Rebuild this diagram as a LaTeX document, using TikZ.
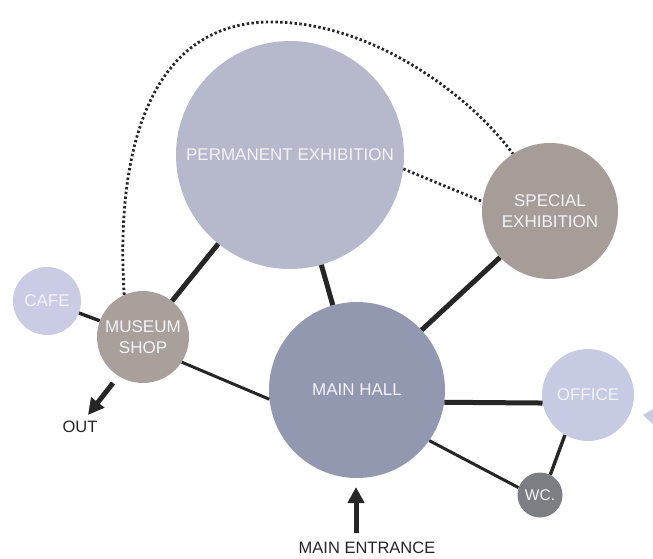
\documentclass[tikz,border=0pt]{standalone}
\usepackage{fontspec}
\setmainfont{Liberation Sans}
\usetikzlibrary{arrows.meta}
\definecolor{permc}{HTML}{B5B9CB}
\definecolor{hallc}{HTML}{9398B1}
\definecolor{specc}{HTML}{A69D98}
\definecolor{shopc}{HTML}{A9A09C}
\definecolor{cafec}{HTML}{C9CCE4}
\definecolor{offc}{HTML}{C6CAE2}
\definecolor{wcc}{HTML}{7D7D84}
\definecolor{linec}{HTML}{262626}
\definecolor{labc}{HTML}{F3F3F6}
\tikzset{
  room/.style={circle, inner sep=0pt, text=labc, align=center,
    font=\fontsize{17}{20.5}\selectfont},
  thickl/.style={draw=linec, line width=5pt},
  thinl/.style={draw=linec, line width=3pt},
  dotl/.style={draw=linec, line width=2.8pt, line cap=butt, dash pattern=on 2.4pt off 2.4pt},
  bigarrow/.style={draw=linec, line width=5pt, -{Triangle[length=16pt,width=16pt]}},
  plain/.style={text=linec, inner sep=0pt, font=\fontsize{16.5}{19}\selectfont}
}
\begin{document}
\begin{tikzpicture}[x=1pt,y=-1pt]
\useasboundingbox (0,0) rectangle (653,558);
\node[room, fill=permc, minimum size=228pt] (perm) at (290,155) {PERMANENT EXHIBITION};
\node[room, fill=specc, minimum size=136pt] (spec) at (550,211) {SPECIAL\\EXHIBITION};
\node[room, fill=hallc, minimum size=176pt] (hall) at (357,390) {MAIN HALL};
\node[room, fill=shopc, minimum size=92pt] (shop) at (143,337) {MUSEUM\\SHOP};
\node[room, fill=cafec, minimum size=68pt] (cafe) at (47,301) {CAFE};
\node[room, fill=offc, minimum size=92pt] (office) at (588,395) {OFFICE};
\node[room, fill=wcc, minimum size=45pt, font=\fontsize{15.5}{18}\selectfont] (wc) at (540,495) {WC.};

\draw[thickl] (perm) -- (shop);
\draw[thickl] (perm) -- (hall);
\draw[thickl] (hall) -- (spec);
\draw[thickl] (hall.-8) -- (office.190);
\draw[thinl] (shop.-33) -- (hall.186.6);
\draw[thinl] (hall.-35.5) -- (wc.161);
\draw[thinl, line width=3.4pt] (office.240) -- (wc.63);
\draw[thinl, line width=3.4pt] (cafe) -- (shop);
\draw[dotl] (perm.-7.6) -- (spec.172.5);
\draw[dotl] (shop.114) .. controls (115,150) and (150,25) .. (267,22)
  .. controls (370,20) and (470,95) .. (spec.123);

\coordinate (entA) at (356,533);
\coordinate (entB) at (356,487);
\draw[bigarrow] (entA) -- (entB);
\node[plain] (entr) at (367,548) {MAIN ENTRANCE};
\coordinate (outA) at (113,383);
\coordinate (outB) at (88,415);
\draw[bigarrow] (outA) -- (outB);
\node[plain] (out) at (80,427) {OUT};

\fill[offc] (643,415) -- (653,409) -- (653,424) -- cycle;
\end{tikzpicture}
\end{document}
